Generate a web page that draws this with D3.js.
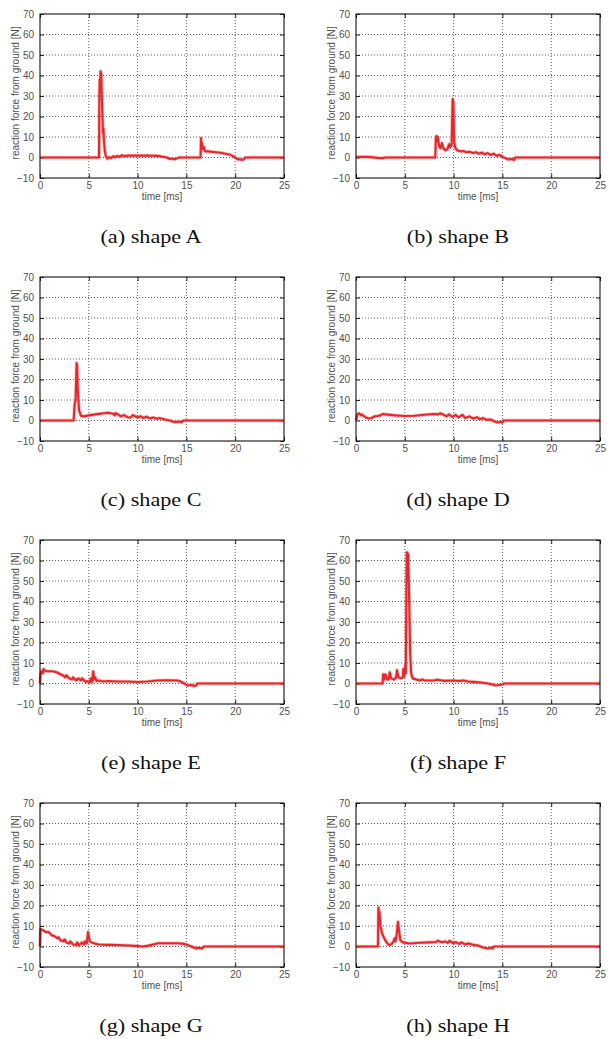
<!DOCTYPE html>
<html>
<head>
<meta charset="utf-8">
<script src="https://cdn.jsdelivr.net/npm/d3@7"></script>
<style>
  html, body { margin: 0; padding: 0; background: #fff; }
  svg { display: block; }
  .tick text { font-family: "Liberation Sans", Arial, sans-serif; font-size: 10px; fill: #505050; }
  .axis-label { font-family: "Liberation Sans", Arial, sans-serif; font-size: 10px; fill: #505050; }
  .caption { font-family: "Liberation Serif", "Times New Roman", serif; font-size: 18.5px; fill: #111; }
</style>
</head>
<body>
<svg id="fig" width="608" height="1039"></svg>
<script>
// Ground reaction force [N] against time [ms], one trace per body shape.
const xTicks = [0, 5, 10, 15, 20, 25];
const yTicks = [-10, 0, 10, 20, 30, 40, 50, 60, 70];
const captions = ["(a) shape A", "(b) shape B", "(c) shape C", "(d) shape D",
                  "(e) shape E", "(f) shape F", "(g) shape G", "(h) shape H"];
const xLabel = "time [ms]";
const yLabel = "reaction force from ground [N]";

// [time ms, force N]
const shapeA = [[0,0],[6.05,0],[6.08,30],[6.12,38],[6.15,34],[6.2,42],[6.27,41],[6.33,30],[6.4,20],[6.45,12],
  [6.5,14],[6.55,8],[6.65,3],[6.75,0.5],[6.9,-0.6],[7.1,0.2],[7.3,-0.3],[7.5,0.6],[7.7,0.1],[7.9,0.8],[8.1,0.3],
  [8.4,1.2],[8.6,0.6],[9,0.9],[10,0.9],[11,1],[12,0.8],[12.6,0.4],[13,0],[13.3,-0.7],[13.6,-0.5],[13.8,-0.9],
  [14.1,-0.3],[14.3,0],[16.45,0],[16.5,9.5],[16.55,5],[16.6,7],[16.7,4],[16.8,5],[16.9,3],[17.2,3],[18,2.6],
  [18.5,2.3],[19,1.8],[19.4,1.5],[19.7,0.8],[20,0],[20.3,-1],[20.5,-0.8],[20.7,-1.2],[20.9,-0.9],[21.0,0],[25,0]];

const shapeB = [[0,0.2],[0.8,0.4],[1.5,0.2],[2.2,-0.2],[2.8,-0.3],[3.0,0],[8.12,0],[8.18,9],[8.25,10.5],[8.32,8],
  [8.38,10],[8.5,6],[8.65,4.5],[8.8,7],[8.95,4.5],[9.15,3.5],[9.35,4],[9.55,6.5],[9.65,5],[9.8,6],[9.9,28.5],
  [9.98,27],[10.05,8],[10.15,5],[10.35,3.5],[10.7,3],[11,3.2],[11.3,2.6],[11.6,2.8],[12,2.2],[12.3,2.6],[12.6,1.8],
  [12.9,2.4],[13.2,1.5],[13.5,2.2],[13.8,1.2],[14.1,1.9],[14.4,0.8],[14.7,1.3],[15,0.3],[15.3,-0.3],[15.6,-1],
  [15.9,-0.7],[16.2,-1.2],[16.3,0],[25,0]];

const shapeC = [[0,0],[3.45,0],[3.55,8],[3.65,10],[3.75,28],[3.8,27],[3.87,15],[4.0,5],[4.2,2.3],[4.5,2],[5,2.5],
  [5.7,3],[6.5,3.5],[7,3.8],[7.5,3.3],[7.65,2.5],[7.75,3.6],[8.3,2],[8.6,2.6],[9,1.5],[9.3,1.5],[9.5,2.6],[10,1.5],
  [10.3,2.1],[10.6,1.2],[10.9,1.9],[11.2,1],[11.6,1.5],[12,0.8],[12.2,1.2],[12.8,0.5],[13.3,0],[13.8,-0.8],
  [14.2,-0.5],[14.5,-0.9],[14.7,0],[25,0]];

const shapeD = [[0,0],[0.15,3],[0.3,3.5],[0.5,2.5],[0.6,3],[0.7,2.5],[1,1.5],[1.3,1],[1.6,1.2],[1.9,2],[2.2,2.2],
  [2.5,2.5],[2.75,3.2],[3,3],[4,2.5],[5,2.2],[6,2.3],[7,2.8],[8,3.2],[8.4,3],[8.6,3.5],[8.9,3],[9.3,2],[9.5,3],
  [9.9,1.8],[10.2,2.8],[10.5,1.5],[10.9,2.8],[11.2,1.2],[11.6,2],[12,1],[12.4,1.6],[12.7,0.6],[13,1.2],[13.4,0.3],
  [13.8,0.5],[14.2,-0.5],[14.5,-1],[14.8,-0.6],[15,-1],[15.1,0],[25,0]];

const shapeE = [[0,0],[0.05,4],[0.15,6],[0.3,5],[0.35,7],[0.6,6],[1,6],[1.3,6],[1.7,5.5],[2.1,4.5],[2.4,3.8],
  [2.6,3],[2.7,4],[3,2.5],[3.3,2],[3.4,3],[3.7,1.5],[3.9,2.5],[4.2,1.5],[4.3,2.5],[4.7,0.8],[4.9,1.2],[5.1,0.5],
  [5.2,2.5],[5.35,0.8],[5.45,6],[5.55,2],[5.65,3],[5.8,1.2],[6,1.5],[6.5,1],[7,1.2],[8,1],[9,1],[10,0.7],[11,1],
  [12,1.5],[13,1.6],[14,1.5],[14.3,1.2],[14.8,0],[15.1,-1],[15.5,-0.7],[15.8,-1.2],[16,-1],[16.1,0],[25,0]];

const shapeF = [[0,0],[2.72,0],[2.78,4.5],[2.9,2],[3.0,4.5],[3.2,2],[3.35,2],[3.45,5.5],[3.6,2.5],[3.9,2],[4.1,2.8],
  [4.2,6.5],[4.35,3],[4.6,2.5],[4.8,3],[4.85,7],[4.95,3.5],[5.05,9],[5.1,5],[5.2,64],[5.35,63],[5.45,40],[5.55,15],
  [5.65,5],[5.8,2.5],[6.2,2],[6.5,1.5],[6.8,2],[7,1.5],[8,1.5],[8.3,1.8],[9,1.3],[10,1.5],[10.5,1.2],[11,1.5],
  [11.5,1],[12,0.8],[12.8,0.5],[13.5,0],[14,-0.5],[14.3,-1],[15,-0.5],[15.2,0],[25,0]];

const shapeG = [[0,0],[0.05,8.5],[0.3,8],[0.6,7],[0.9,7],[1.2,5.5],[1.5,5],[1.8,4],[1.9,4.5],[2.1,3],[2.4,2.5],
  [2.5,3.5],[2.7,2],[3,1.5],[3.1,2.5],[3.4,1],[3.7,0.8],[3.8,2],[4,0.5],[4.3,2],[4.5,1],[4.6,2.5],[4.8,1.5],
  [4.92,7],[5.1,2.5],[5.3,2],[5.6,1.5],[6,1],[7,0.8],[8,0.7],[9,0.5],[10,0.2],[10.5,0],[11,0.3],[11.6,1],[12.1,1.6],
  [13,1.6],[14,1.6],[14.6,1.4],[15.1,0.8],[15.5,0],[16,-1],[16.3,-0.6],[16.6,-1],[16.8,0],[25,0]];

const shapeH = [[0,0],[2.25,0],[2.3,19],[2.35,15],[2.4,17],[2.5,10],[2.7,6],[3,3],[3.3,1],[3.5,0.8],[3.7,1.5],
  [3.85,2.5],[3.95,4],[4.05,2.5],[4.15,5],[4.3,12],[4.4,8],[4.55,3],[4.8,2],[5.5,1.5],[6.5,1.8],[7.5,2],[8.2,2.2],
  [8.4,2.8],[8.8,2],[9.1,2.5],[9.4,1.8],[9.6,2.8],[10,1.5],[10.2,2.2],[10.6,1.2],[10.8,2],[11.2,1],[11.5,1.5],
  [12,0.8],[12.5,0.5],[13,-0.5],[13.5,-1],[13.8,-0.6],[14,-1],[14.1,0],[25,0]];

const series = [shapeA, shapeB, shapeC, shapeD, shapeE, shapeF, shapeG, shapeH];

const svg = d3.select("#fig");
const plotW = 244, plotH = 164;
const colLeft = [40, 356];
const rowTop = [14, 277, 540, 803];

series.forEach((data, i) => {
  const col = i % 2, row = Math.floor(i / 2);
  const left = colLeft[col], top = rowTop[row];
  const x = d3.scaleLinear().domain([0, 25]).range([left, left + plotW]);
  const y = d3.scaleLinear().domain([-10, 70]).range([top + plotH, top]);
  const g = svg.append("g");

  // dotted grid at interior ticks
  g.selectAll(".gx").data(xTicks.slice(1, -1)).join("line")
    .attr("x1", d => x(d)).attr("x2", d => x(d))
    .attr("y1", top).attr("y2", top + plotH)
    .attr("stroke", "#333").attr("stroke-width", 0.8).attr("stroke-dasharray", "1,2");
  g.selectAll(".gy").data(yTicks.slice(1, -1)).join("line")
    .attr("x1", left).attr("x2", left + plotW)
    .attr("y1", d => y(d)).attr("y2", d => y(d))
    .attr("stroke", "#333").attr("stroke-width", 0.8).attr("stroke-dasharray", "1,2");

  // axes with inward ticks, mirrored on top and right
  const ax = (sel) => { sel.select(".domain").remove(); sel.selectAll(".tick line").attr("stroke", "#222"); };
  g.append("g").attr("transform", `translate(0,${top + plotH})`)
    .call(d3.axisBottom(x).tickValues(xTicks).tickSize(-4).tickPadding(4).tickFormat(d3.format("d"))).call(ax);
  g.append("g").attr("transform", `translate(0,${top})`)
    .call(d3.axisTop(x).tickValues(xTicks).tickSize(-4).tickFormat("")).call(ax);
  g.append("g").attr("transform", `translate(${left},0)`)
    .call(d3.axisLeft(y).tickValues(yTicks).tickSize(-4).tickPadding(6).tickFormat(d3.format("d"))).call(ax);
  g.append("g").attr("transform", `translate(${left + plotW},0)`)
    .call(d3.axisRight(y).tickValues(yTicks).tickSize(-4).tickFormat("")).call(ax);

  // force trace
  const line = d3.line().x(d => x(d[0])).y(d => y(d[1]));
  g.append("path").datum(data).attr("d", line)
    .attr("fill", "none").attr("stroke", "#f07070").attr("stroke-opacity", 0.45)
    .attr("stroke-width", 3.6).attr("stroke-linejoin", "round");
  g.append("path").datum(data).attr("d", line)
    .attr("fill", "none").attr("stroke", "#e8262b")
    .attr("stroke-width", 2.1).attr("stroke-linejoin", "round");

  // frame
  g.append("rect").attr("x", left).attr("y", top).attr("width", plotW).attr("height", plotH)
    .attr("fill", "none").attr("stroke", "#111").attr("stroke-width", 1.1);

  // axis titles
  g.append("text").attr("class", "axis-label")
    .attr("x", left + plotW / 2).attr("y", top + plotH + 22)
    .attr("text-anchor", "middle").text(xLabel);
  g.append("text").attr("class", "axis-label")
    .attr("transform", `translate(${left - 21},${top + plotH / 2 - 3}) rotate(-90)`)
    .attr("text-anchor", "middle").text(yLabel);

  // sub-figure caption
  const cx = col === 0 ? 151 : 458;
  g.append("text").attr("class", "caption")
    .attr("transform", `translate(${cx},${top + plotH + 65}) scale(1.2,1)`)
    .attr("text-anchor", "middle").text(captions[i]);
});
</script>
</body>
</html>
